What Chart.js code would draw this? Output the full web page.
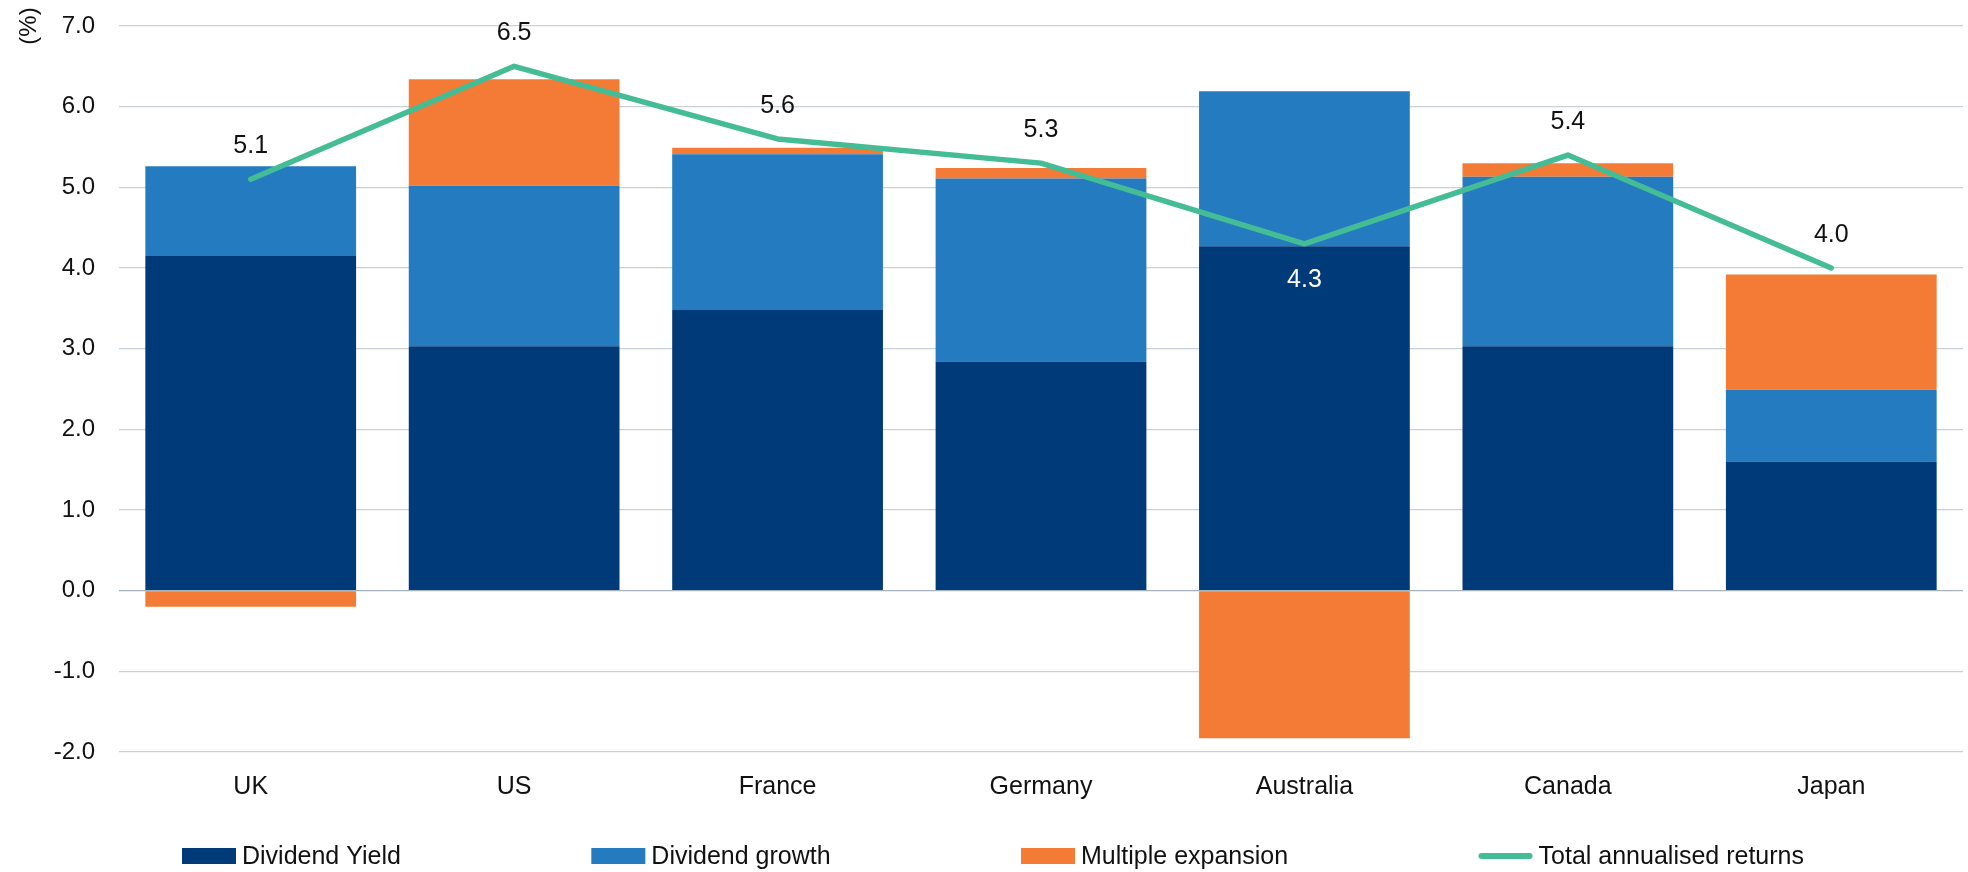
<!DOCTYPE html>
<html>
<head>
<meta charset="utf-8">
<title>Return decomposition</title>
<script src="https://cdn.jsdelivr.net/npm/chart.js@4.4.1/dist/chart.umd.min.js"></script>
<style>
    html, body { margin: 0; padding: 0; background: #fff; }
</style>
</head>
<body>
<canvas id="myChart" width="1968" height="872"></canvas>
<script>
// Dữ liệu
const countries = ['UK', 'US', 'France', 'Germany', 'Australia', 'Canada', 'Japan'];
const dividendYield = [4.15, 3.03, 3.48, 2.84, 4.27, 3.03, 1.60];
const dividendGrowth = [1.11, 1.99, 1.93, 2.27, 1.92, 2.10, 0.89];
const multipleExpansion = [-0.20, 1.32, 0.08, 0.13, -1.83, 0.17, 1.43];
const totalReturns = [5.1, 6.5, 5.6, 5.3, 4.3, 5.4, 4.0];
const yTicks = [-2, -1, 0, 1, 2, 3, 4, 5, 6, 7];

const FONT = "'Liberation Sans', Arial, sans-serif";
const TEXT = '#111111';

// Tiêu đề trục Y "(%)" xoay dọc ở góc trên bên trái
const axisTitle = {
    id: 'axisTitle',
    afterDraw(chart) {
        const ctx = chart.ctx;
        ctx.save();
        ctx.translate(29, 26);
        ctx.rotate(-Math.PI / 2);
        ctx.font = '24px ' + FONT;
        ctx.fillStyle = TEXT;
        ctx.textAlign = 'center';
        ctx.textBaseline = 'middle';
        ctx.fillText('(%)', 0, 0);
        ctx.restore();
    }
};

// Nhãn giá trị của đường tổng
const totalLabels = {
    id: 'totalLabels',
    afterDatasetsDraw(chart, args, opts) {
        const ctx = chart.ctx;
        const idx = chart.data.datasets.findIndex(d => d.type === 'line');
        const meta = chart.getDatasetMeta(idx);
        const values = chart.data.datasets[idx].data;
        ctx.save();
        ctx.font = '25px ' + FONT;
        ctx.textAlign = 'center';
        ctx.textBaseline = 'middle';
        meta.data.forEach((pt, i) => {
            const below = opts.below.includes(chart.data.labels[i]);
            ctx.fillStyle = below ? '#ffffff' : TEXT;
            ctx.fillText(values[i].toFixed(1), pt.x, below ? pt.y + 36 : pt.y - 33);
        });
        ctx.restore();
    }
};

// Chú thích tự vẽ ở dưới cùng
const bottomLegend = {
    id: 'bottomLegend',
    afterDraw(chart) {
        const ctx = chart.ctx;
        const boxW = 54, boxH = 16, textGap = 6, y = 856;
        const startX = 182, endX = 1804;
        ctx.save();
        ctx.font = '25px ' + FONT;
        ctx.textBaseline = 'middle';
        const items = chart.data.datasets.map(d => ({
            text: d.label,
            color: d.type === 'line' ? d.borderColor : d.backgroundColor,
            line: d.type === 'line',
            w: boxW + textGap + ctx.measureText(d.label).width
        }));
        const used = items.reduce((s, it) => s + it.w, 0);
        const gap = (endX - startX - used) / (items.length - 1);
        let x = startX;
        items.forEach(it => {
            if (it.line) {
                ctx.strokeStyle = it.color;
                ctx.lineWidth = 6;
                ctx.lineCap = 'round';
                ctx.beginPath();
                ctx.moveTo(x + 3, y);
                ctx.lineTo(x + boxW - 3, y);
                ctx.stroke();
            } else {
                ctx.fillStyle = it.color;
                ctx.fillRect(x, y - boxH / 2, boxW, boxH);
            }
            ctx.fillStyle = TEXT;
            ctx.fillText(it.text, x + boxW + textGap, y + 1);
            x += it.w + gap;
        });
        ctx.restore();
    }
};

const ctx = document.getElementById('myChart').getContext('2d');
new Chart(ctx, {
    type: 'bar',
    data: {
        labels: countries,
        datasets: [
            {
                label: 'Dividend Yield',
                data: dividendYield,
                backgroundColor: '#003A78',
                stack: 'parts',
                order: 1
            },
            {
                label: 'Dividend growth',
                data: dividendGrowth,
                backgroundColor: '#247BC0',
                stack: 'parts',
                order: 1
            },
            {
                label: 'Multiple expansion',
                data: multipleExpansion,
                backgroundColor: '#F47B35',
                stack: 'parts',
                order: 1
            },
            {
                type: 'line',
                label: 'Total annualised returns',
                data: totalReturns,
                borderColor: '#44BC95',
                borderWidth: 5.5,
                borderCapStyle: 'round',
                borderJoinStyle: 'round',
                pointRadius: 0,
                tension: 0,
                stack: 'total',
                order: 0
            }
        ]
    },
    options: {
        responsive: false,
        animation: false,
        devicePixelRatio: 1,
        layout: { padding: { left: 0, top: 26, right: 5, bottom: 70 } },
        datasets: {
            bar: { barPercentage: 0.8, categoryPercentage: 1 }
        },
        plugins: {
            legend: { display: false },
            tooltip: { enabled: false },
            totalLabels: { below: ['Australia'] }
        },
        scales: {
            x: {
                stacked: true,
                grid: { display: false },
                border: { display: false },
                ticks: { color: TEXT, font: { family: FONT, size: 25 }, padding: 12 },
                afterFit: s => { s.height = 50; }
            },
            y: {
                stacked: true,
                min: -2,
                max: 7,
                afterBuildTicks: s => { s.ticks = yTicks.map(v => ({ value: v })); },
                grid: {
                    drawTicks: false,
                    color: c => c.tick && c.tick.value === 0 ? '#A7B3BC' : '#C8D1D8',
                    lineWidth: 1.3
                },
                border: { display: false },
                ticks: {
                    color: TEXT,
                    padding: 24,
                    font: { family: FONT, size: 24 },
                    callback: v => Number(v).toFixed(1)
                },
                afterFit: s => {
                    s.width = 119;
                    s.paddingTop = 0;
                    s.paddingBottom = 0;
                }
            }
        }
    },
    plugins: [axisTitle, totalLabels, bottomLegend]
});
</script>
</body>
</html>
